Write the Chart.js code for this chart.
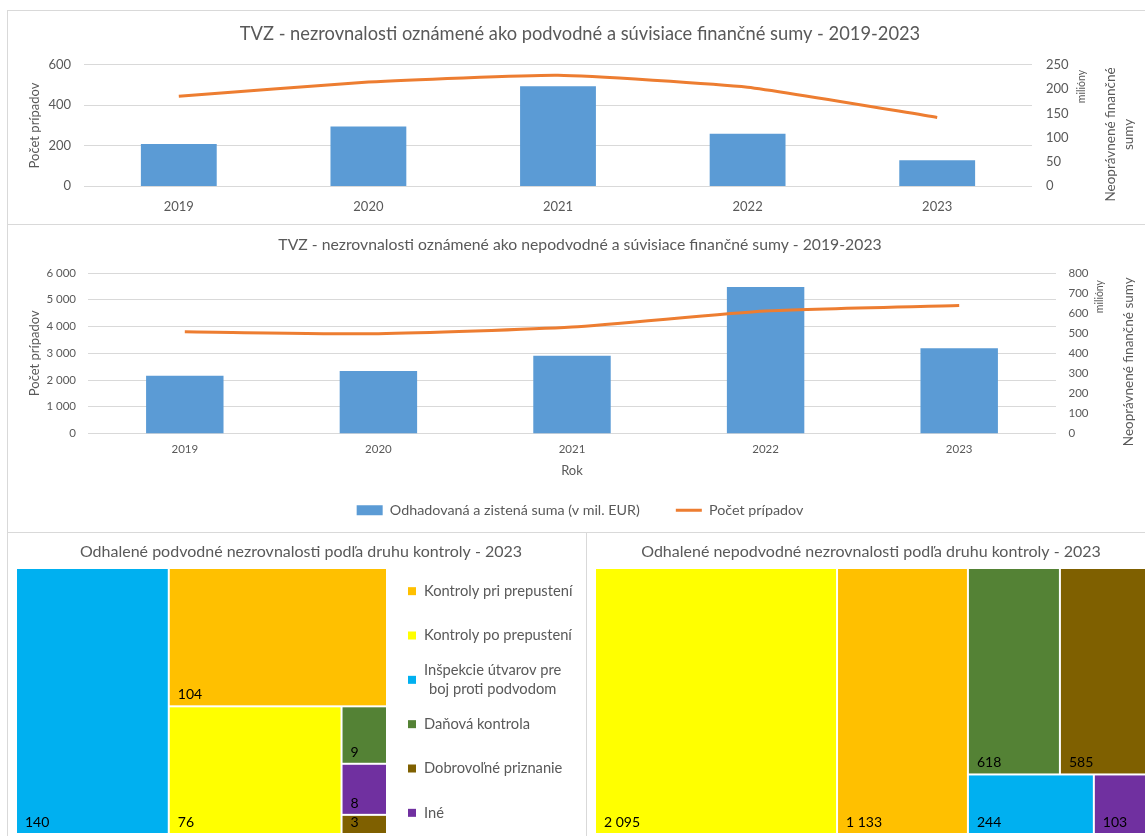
<!DOCTYPE html>
<html lang="sk">
<head>
    <meta charset="UTF-8">
    <meta name="viewport" content="width=device-width, initial-scale=1.0">
    <title>TVZ - nezrovnalosti 2019-2023</title>
    <script src="https://cdn.jsdelivr.net/npm/chart.js"></script>
    <style>
        body, html {
            margin: 0;
            padding: 0;
            width: 1145px;
            height: 836px;
            overflow: hidden;
            background-color: #ffffff;
            font-family: 'Lato', sans-serif;
        }

        .panel {
            position: absolute;
            box-sizing: border-box;
            border: 1px solid #d9d9d9;
            background-color: #ffffff;
        }

        .panel canvas {
            position: absolute;
            left: 0;
            top: 0;
        }

        #panelPodvodne { left: 7px; top: 10px; width: 1160px; height: 215px; }
        #panelNepodvodne { left: 7px; top: 224px; width: 1160px; height: 309px; }
        #panelMapaPodvodne { left: 7px; top: 532px; width: 580px; height: 320px; }
        #panelMapaNepodvodne { left: 586px; top: 532px; width: 600px; height: 320px; }
    </style>
</head>
<body>
    <div class="panel" id="panelPodvodne"><canvas id="grafPodvodne" width="1137" height="213"></canvas></div>
    <div class="panel" id="panelNepodvodne"><canvas id="grafNepodvodne" width="1137" height="307"></canvas></div>
    <div class="panel" id="panelMapaPodvodne"><canvas id="mapaPodvodne" width="578" height="303"></canvas></div>
    <div class="panel" id="panelMapaNepodvodne"><canvas id="mapaNepodvodne" width="560" height="303"></canvas></div>

    <script>
        // Údaje
        const roky = ['2019', '2020', '2021', '2022', '2023'];
        const podvodneSumy = [87, 123, 206, 108, 53];            // mil. EUR
        const podvodnePripady = [445, 515, 549, 490, 340];
        const nepodvodneSumy = [288, 311, 387, 730, 425];         // mil. EUR
        const nepodvodnePripady = [3804, 3729, 3977, 4580, 4783];

        const tickyPodvodnePripady = [0, 200, 400, 600];
        const tickyPodvodneSumy = [0, 50, 100, 150, 200, 250];
        const tickyNepodvodnePripady = [0, 1000, 2000, 3000, 4000, 5000, 6000];
        const tickyNepodvodneSumy = [0, 100, 200, 300, 400, 500, 600, 700, 800];

        const druhyKontroly = ['Kontroly pri prepustení', 'Kontroly po prepustení', 'Inšpekcie útvarov pre boj proti podvodom', 'Daňová kontrola', 'Dobrovoľné priznanie', 'Iné'];
        const podvodnePodlaKontroly = [104, 76, 140, 9, 3, 8];
        const nepodvodnePodlaKontroly = [1133, 2095, 244, 618, 585, 103];
        // koľko buniek (od najväčšej) patrí do jedného pásu stromovej mapy
        const podvodnePasy = [1, 1, 1, 1, 1, 1];
        const nepodvodnePasy = [1, 1, 2, 2];

        const farbyKontroly = ['#ffc000', '#ffff00', '#00b0f0', '#548235', '#7f6000', '#7030a0'];

        Chart.defaults.font.family = 'Lato';
        Chart.defaults.color = '#595959';

        function cislo(v) {
            return String(v).replace(/\B(?=(\d{3})+(?!\d))/g, ' ');
        }

        function ticky(zoznam) {
            return s => { s.ticks = zoznam.map(v => ({ value: v })); };
        }

        // popis pravej osi (čítaný zdola nahor ako v Exceli)
        function pravaOs(o) {
            return {
                id: 'pravaOs',
                afterDraw(chart) {
                    const { ctx, chartArea } = chart;
                    const os = chart.scales.y1;
                    ctx.save();
                    ctx.fillStyle = '#595959';
                    ctx.font = '10.5px Lato';
                    ctx.textAlign = 'right';
                    ctx.textBaseline = 'middle';
                    ctx.translate(os.left + o.jednotkaX, chartArea.top + o.jednotkaY);
                    ctx.rotate(-Math.PI / 2);
                    ctx.fillText('milióny', 0, 0);
                    ctx.restore();

                    const stred = (chartArea.top + chartArea.bottom) / 2 + o.posun;
                    o.titulok.forEach((riadok, i) => {
                        ctx.save();
                        ctx.fillStyle = '#595959';
                        ctx.font = o.velkost + 'px Lato';
                        ctx.textAlign = 'center';
                        ctx.textBaseline = 'middle';
                        ctx.translate(os.left + o.titulokX + i * 18, stred);
                        ctx.rotate(-Math.PI / 2);
                        ctx.fillText(riadok, 0, 0);
                        ctx.restore();
                    });
                }
            };
        }

        function kombinovanyGraf(id, titulok, sumy, pripady, tickyL, tickyP, nastav) {
            return new Chart(document.getElementById(id), {
                type: 'bar',
                data: {
                    labels: roky,
                    datasets: [{
                        type: 'bar',
                        label: 'Odhadovaná a zistená suma (v mil. EUR)',
                        data: sumy,
                        yAxisID: 'y1',
                        backgroundColor: '#5b9bd5',
                        categoryPercentage: 1,
                        barPercentage: 0.4,
                        order: 1
                    }, {
                        type: 'line',
                        label: 'Počet prípadov',
                        data: pripady,
                        yAxisID: 'y',
                        borderColor: '#ed7d31',
                        backgroundColor: '#ed7d31',
                        borderWidth: 3,
                        pointRadius: 0,
                        tension: nastav.napatie,
                        order: 0
                    }]
                },
                options: {
                    responsive: false,
                    animation: false,
                    layout: { padding: { left: 7, right: 0, top: 0, bottom: nastav.dole } },
                    plugins: {
                        tooltip: { enabled: false },
                        title: {
                            display: true,
                            text: titulok,
                            color: '#595959',
                            font: { size: nastav.titulokVelkost, weight: 'normal' },
                            padding: nastav.titulokPadding
                        },
                        legend: nastav.legenda
                    },
                    scales: {
                        x: {
                            grid: { display: false, drawTicks: false },
                            border: { display: false },
                            ticks: { padding: nastav.xPadding, font: { size: nastav.tickVelkost } },
                            title: nastav.xTitulok,
                            afterFit: s => { s.height = nastav.xVyska; }
                        },
                        y: {
                            position: 'left',
                            min: tickyL[0],
                            max: tickyL[tickyL.length - 1],
                            afterBuildTicks: ticky(tickyL),
                            grid: { color: '#d9d9d9', drawTicks: false },
                            border: { display: false },
                            ticks: { padding: nastav.lPadding, font: { size: nastav.tickVelkost }, callback: v => cislo(v) },
                            title: { display: true, text: 'Počet prípadov', font: { size: 13 }, padding: { top: 11.6, bottom: 0 } },
                            afterFit: s => { s.width = nastav.lSirka; }
                        },
                        y1: {
                            position: 'right',
                            min: tickyP[0],
                            max: tickyP[tickyP.length - 1],
                            afterBuildTicks: ticky(tickyP),
                            grid: { display: false, drawTicks: false },
                            border: { display: false },
                            ticks: { padding: nastav.pPadding, font: { size: nastav.tickVelkost }, callback: v => cislo(v) },
                            afterFit: s => { s.width = nastav.pSirka; }
                        }
                    }
                },
                plugins: [pravaOs(nastav.pravaOs)]
            });
        }

        kombinovanyGraf('grafPodvodne',
            'TVZ - nezrovnalosti oznámené ako podvodné a súvisiace finančné sumy - 2019-2023',
            podvodneSumy, podvodnePripady, tickyPodvodnePripady, tickyPodvodneSumy, {
                dole: 0,
                napatie: 0.15,
                titulokVelkost: 18.3,
                titulokPadding: { top: 12, bottom: 20 },
                legenda: { display: false },
                tickVelkost: 13,
                xPadding: 13,
                xVyska: 38,
                xTitulok: { display: false },
                lPadding: 13,
                lSirka: 69,
                pPadding: 14,
                pSirka: 113,
                pravaOs: { jednotkaX: 49.5, jednotkaY: 5, titulok: ['Neoprávnené finančné', 'sumy'], titulokX: 79, posun: 9, velkost: 13.5 }
            });

        kombinovanyGraf('grafNepodvodne',
            'TVZ - nezrovnalosti oznámené ako nepodvodné a súvisiace finančné sumy - 2019-2023',
            nepodvodneSumy, nepodvodnePripady, tickyNepodvodnePripady, tickyNepodvodneSumy, {
                dole: 4.7,
                napatie: 0.2,
                titulokVelkost: 15.75,
                titulokPadding: { top: 10.5, bottom: 18.6 },
                legenda: {
                    position: 'bottom',
                    labels: {
                        usePointStyle: true,
                        pointStyleWidth: 26,
                        boxHeight: 10,
                        padding: 36,
                        color: '#595959',
                        font: { size: 14.3 },
                        generateLabels: chart => chart.data.datasets.map((d, i) => ({
                            text: d.label,
                            fillStyle: d.backgroundColor,
                            strokeStyle: d.type === 'line' ? d.borderColor : d.backgroundColor,
                            lineWidth: d.type === 'line' ? 3 : 0,
                            pointStyle: d.type === 'line' ? 'line' : 'rect',
                            fontColor: '#595959',
                            hidden: false,
                            datasetIndex: i
                        }))
                    }
                },
                tickVelkost: 11.5,
                xPadding: 9,
                xVyska: 33.5,
                xTitulok: { display: true, text: 'Rok', font: { size: 13 }, padding: { top: 0, bottom: -11.3 } },
                lPadding: 12,
                lSirka: 73,
                pPadding: 12.5,
                pSirka: 89,
                pravaOs: { jednotkaX: 44, jednotkaY: 7, titulok: ['Neoprávnené finančné sumy'], titulokX: 73, posun: 8.5, velkost: 13.5 }
            });

        // Stromové mapy
        function rozlozPasy(polozky, pasy, sirka, vyska) {
            let zvysok = polozky.reduce((s, p) => s + p.v, 0);
            let rx = 0, ry = 0, rw = sirka, rh = vyska, k = 0;
            const bunky = [];
            pasy.forEach((n, j) => {
                const pas = polozky.slice(k, k + n);
                k += n;
                const sucet = pas.reduce((s, p) => s + p.v, 0);
                const posledny = j === pasy.length - 1;
                const stlpec = posledny ? rw < rh : rw >= rh;
                if (stlpec) {
                    const t = rw * sucet / zvysok;
                    let yy = ry;
                    pas.forEach(p => {
                        const h = rh * p.v / sucet;
                        bunky.push({ v: p.v, i: p.i, x: rx, y: yy, w: t, h: h });
                        yy += h;
                    });
                    rx += t;
                    rw -= t;
                } else {
                    const t = rh * sucet / zvysok;
                    let xx = rx;
                    pas.forEach(p => {
                        const w = rw * p.v / sucet;
                        bunky.push({ v: p.v, i: p.i, x: xx, y: ry, w: w, h: t });
                        xx += w;
                    });
                    ry += t;
                    rh -= t;
                }
                zvysok -= sucet;
            });
            return bunky;
        }

        function stromovaMapa(hodnoty, pasy) {
            return {
                id: 'stromovaMapa',
                afterDatasetsDraw(chart) {
                    const { ctx, chartArea: a, scales: { x, y } } = chart;
                    const polozky = hodnoty.map((v, i) => ({ v: v, i: i })).sort((p, q) => q.v - p.v);
                    const bunky = rozlozPasy(polozky, pasy, a.width, a.height);
                    ctx.save();
                    bunky.forEach(b => {
                        const x0 = x.getPixelForValue(b.x / a.width);
                        const x1 = x.getPixelForValue((b.x + b.w) / a.width);
                        const y0 = y.getPixelForValue(b.y / a.height);
                        const y1 = y.getPixelForValue((b.y + b.h) / a.height);
                        ctx.fillStyle = farbyKontroly[b.i];
                        ctx.fillRect(x0 + 1, y0 + 1, x1 - x0 - 2, y1 - y0 - 2);
                        ctx.fillStyle = '#000000';
                        ctx.font = '14px Lato';
                        ctx.textAlign = 'left';
                        ctx.textBaseline = 'alphabetic';
                        ctx.fillText(cislo(b.v), x0 + 9, y1 - 7);
                    });
                    ctx.restore();
                }
            };
        }

        function zalomText(ctx, text, maxSirka) {
            const riadky = [];
            let riadok = '';
            text.split(' ').forEach(slovo => {
                const skusba = riadok ? riadok + ' ' + slovo : slovo;
                if (riadok && ctx.measureText(skusba).width > maxSirka) {
                    riadky.push(riadok);
                    riadok = slovo;
                } else {
                    riadok = skusba;
                }
            });
            riadky.push(riadok);
            return riadky;
        }

        const legendaMapy = {
            id: 'legendaMapy',
            afterDraw(chart) {
                const { ctx, chartArea: a } = chart;
                const krok = a.height / druhyKontroly.length;
                ctx.save();
                ctx.font = '14.7px Lato';
                ctx.textBaseline = 'middle';
                druhyKontroly.forEach((nazov, i) => {
                    const stred = a.top + (i + 0.5) * krok + 1;
                    const riadky = zalomText(ctx, nazov, 152);
                    ctx.fillStyle = farbyKontroly[i];
                    ctx.fillRect(a.right + 21, stred - 4, 8, 8);
                    ctx.fillStyle = '#595959';
                    const sirka = Math.max(...riadky.map(r => ctx.measureText(r).width));
                    const viac = riadky.length > 1;
                    ctx.textAlign = viac ? 'center' : 'left';
                    const tx = viac ? a.right + 37 + sirka / 2 : a.right + 37;
                    riadky.forEach((r, j) => {
                        ctx.fillText(r, tx, stred + (j - (riadky.length - 1) / 2) * 19.5);
                    });
                });
                ctx.restore();
            }
        };

        function mapaGraf(id, titulok, hodnoty, pasy, vpravo, doplnky) {
            return new Chart(document.getElementById(id), {
                type: 'scatter',
                data: { datasets: [] },
                options: {
                    responsive: false,
                    animation: false,
                    layout: { padding: { left: 8, right: 0, top: 0, bottom: 2 } },
                    plugins: {
                        legend: { display: false },
                        tooltip: { enabled: false },
                        title: {
                            display: true,
                            text: titulok,
                            color: '#595959',
                            font: { size: 16, weight: 'normal' },
                            padding: { top: 9.4, bottom: 6.4 }
                        }
                    },
                    scales: {
                        x: { type: 'linear', min: 0, max: 1, display: false },
                        y: { type: 'linear', min: 0, max: 1, reverse: true, display: false },
                        rezerva: {
                            type: 'linear',
                            position: 'right',
                            display: vpravo > 0,
                            min: 0,
                            max: 1,
                            grid: { display: false, drawTicks: false },
                            border: { display: false },
                            ticks: { display: false },
                            afterFit: s => { s.width = vpravo; }
                        }
                    }
                },
                plugins: [stromovaMapa(hodnoty, pasy)].concat(doplnky)
            });
        }

        mapaGraf('mapaPodvodne', 'Odhalené podvodné nezrovnalosti podľa druhu kontroly - 2023',
            podvodnePodlaKontroly, podvodnePasy, 199, [legendaMapy]);
        mapaGraf('mapaNepodvodne', 'Odhalené nepodvodné nezrovnalosti podľa druhu kontroly - 2023',
            nepodvodnePodlaKontroly, nepodvodnePasy, 0, []);
    </script>
</body>
</html>
